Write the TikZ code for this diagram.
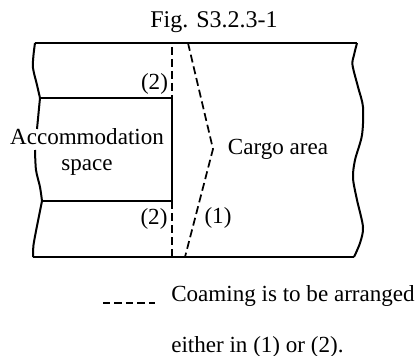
\documentclass[tikz,border=0pt]{standalone}
\usepackage{fontspec}
\setmainfont{Liberation Serif}
\tikzset{
	wall/.style={line width=1.5pt},
	coaming/.style={line width=1.3pt, dash pattern=on 6pt off 3pt},
	label/.style={inner sep=0pt, anchor=base, font=\fontsize{17.3}{20}\selectfont, align=center},
}
\begin{document}
\begin{tikzpicture}[x=0.75pt, y=-0.75pt, line join=round, line cap=butt]
	\def\ytop{43} \def\ybot{257} % Deck lines
	\def\xroom{172}
	\useasboundingbox (0,0) rectangle (417,356);
	\node[label, font=\fontsize{18}{20}\selectfont] (title) at (214,28) {Fig. S3.2.3-1};
	\coordinate (topL) at (35,\ytop);
	\coordinate (topR) at (357,\ytop);
	\coordinate (botL) at (33,\ybot);
	\coordinate (botR) at (354,\ybot);
	\coordinate (roomTL) at (40,98);
	\coordinate (roomBL) at (42,201);
	\coordinate (roomTR) at (\xroom,98);
	\coordinate (roomBR) at (\xroom,201);
	\coordinate (dashT) at (\xroom,47);
	\coordinate (dashB) at (\xroom,\ybot);
	\coordinate (bendT) at (188,\ytop);
	\coordinate (bendM) at (213,149);
	\coordinate (bendB) at (185,\ybot);
	% outline
	\draw[wall] (topL)--(topR);
	\draw[wall] (botL)--(botR);
	\draw[wall,smooth] plot coordinates {(35,43) (33.5,55) (33,68) (37,85) (40,98)};
	\draw[wall] (roomTL)--(37,129);
	\draw[wall,smooth] plot coordinates {(35,150) (36,170) (40,187) (42,201)};
	\draw[wall,smooth] plot coordinates {(42,201) (37,226) (33.5,245) (33,257)};
	\draw[wall,smooth] plot coordinates {(357,43) (354,55) (352.5,65) (358,87) (363,107) (362,135) (355,160) (353,178) (357,200) (363,227) (360,243) (354,257)};
	% room
	\draw[wall] (roomTL)--(roomTR)--(roomBR)--(roomBL);
	% coaming
	\draw[coaming] (dashT)--(roomTR);
	\draw[coaming] (roomBR)--(dashB);
	\draw[coaming] (bendT)--(bendM)--(bendB);
	\node[label] (upperTwo) at (154.5,90) {(2)};
	\node[label] (lowerTwo) at (154,224) {(2)};
	\node[label] (one) at (218,223) {(1)};
	\node[label] (room) at (87,145) {Accommodation};
	\node[label] (roomB) at (87,171) {space};
	\node[label] (cargo) at (278,155) {Cargo area};
	\coordinate (keyL) at (103,303);
	\coordinate (keyR) at (155,303);
	\draw[line width=0.8pt, dash pattern=on 5.5pt off 3.1pt] (keyL)--(keyR);
	\node[label, anchor=base west] (noteA) at (171,301) {Coaming is to be arranged};
	\node[label, anchor=base west] (noteB) at (171,352) {either in (1) or (2).};
\end{tikzpicture}
\end{document}
